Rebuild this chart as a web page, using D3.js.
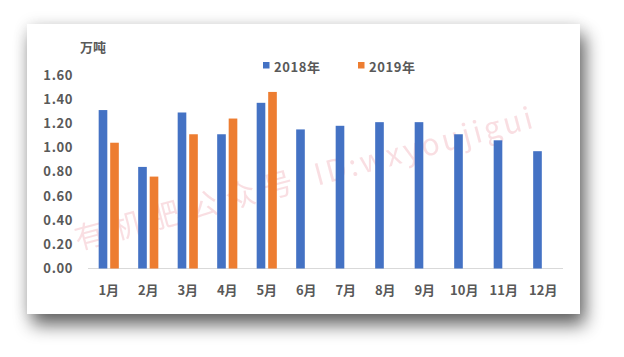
<!DOCTYPE html>
<html><head><meta charset="utf-8">
<script src="https://cdn.jsdelivr.net/npm/d3@7"></script>
<style>
html,body{margin:0;padding:0;background:#fff;}
svg{display:block;}
</style></head>
<body>
<svg id="c" width="624" height="357"></svg>
<script>
const months = ["1月","2月","3月","4月","5月","6月","7月","8月","9月","10月","11月","12月"];
const seriesNames = ["2018年","2019年"];
const values2018 = [1.31,0.84,1.29,1.11,1.37,1.15,1.18,1.21,1.21,1.11,1.06,0.97];
const values2019 = [1.04,0.76,1.11,1.24,1.46,null,null,null,null,null,null,null];
const yTicks = [0,0.2,0.4,0.6,0.8,1.0,1.2,1.4,1.6];
const colors = ["#4472C4","#ED7D31"];
const unitLabel = "万吨";
const watermarkCn = "有机肥公众号";
const watermarkId = "ID:wxyoujigui";

const svg = d3.select("#c");
const font = "'Noto Sans CJK SC','Noto Sans',sans-serif";
const textColor = "#595959";

const defs = svg.append("defs");
const f = defs.append("filter").attr("id","sh").attr("x","-15%").attr("y","-15%").attr("width","135%").attr("height","150%");
f.append("feGaussianBlur").attr("in","SourceAlpha").attr("stdDeviation",9).attr("result","b");
f.append("feOffset").attr("in","b").attr("dx",5).attr("dy",11).attr("result","o");
f.append("feComponentTransfer").attr("in","o").attr("result","o2")
  .append("feFuncA").attr("type","linear").attr("slope",0.6);
const m = f.append("feMerge");
m.append("feMergeNode").attr("in","o2");
m.append("feMergeNode").attr("in","SourceGraphic");

const f2 = defs.append("filter").attr("id","glow").attr("x","-10%").attr("y","-20%").attr("width","120%").attr("height","140%");
f2.append("feGaussianBlur").attr("in","SourceAlpha").attr("stdDeviation",8);

// soft glow behind card
svg.append("rect").attr("x",27).attr("y",24).attr("width",553).attr("height",290)
  .attr("fill","#000").attr("opacity",0.1).attr("filter","url(#glow)");
svg.append("rect").attr("x",27).attr("y",24).attr("width",553).attr("height",290)
  .attr("fill","#fff").attr("filter","url(#sh)");

const x = d3.scaleBand().domain(months).range([89,563]).paddingInner(0.49).paddingOuter(0.245);
const xs = d3.scaleBand().domain(seriesNames).range([0,x.bandwidth()]).paddingInner(0.25);
const y = d3.scaleLinear().domain([0,1.6]).range([268.5,75]);

// watermark
const wm = svg.append("text").attr("transform","translate(78,250) rotate(-15)")
  .attr("font-family",font).attr("font-size",30)
  .attr("fill","#e8808f").attr("opacity",0.25);
wm.append("tspan").attr("letter-spacing",9).text(watermarkCn);
wm.append("tspan").attr("dx",14).attr("letter-spacing",3).text(watermarkId);

// y axis labels
const yAxis = d3.axisLeft(y).tickValues(yTicks).tickFormat(d3.format(".2f")).tickSize(0).tickPadding(0);
const yg = svg.append("g").attr("transform","translate(73,0)").call(yAxis);
yg.select(".domain").remove();
yg.selectAll("text").attr("font-family",font).attr("font-size",13).attr("font-weight","bold")
  .attr("fill",textColor).attr("letter-spacing",0.6);

// baseline
svg.append("line").attr("x1",88).attr("x2",563).attr("y1",y(0)).attr("y2",y(0))
  .attr("stroke","#d9d9d9").attr("stroke-width",1);

// bars
const data = months.map((mo,i)=>({m:mo, vals:[values2018[i],values2019[i]]}));
const groups = svg.append("g").selectAll("g").data(data).join("g")
  .attr("transform",d=>`translate(${x(d.m)},0)`);
groups.selectAll("rect").data(d=>d.vals.map((v,j)=>({s:seriesNames[j],v,j})).filter(e=>e.v!=null))
  .join("rect")
  .attr("x",d=>xs(d.s)).attr("width",xs.bandwidth())
  .attr("y",d=>y(d.v)).attr("height",d=>y(0)-y(d.v))
  .attr("fill",d=>colors[d.j]);

// x axis labels
const xAxis = d3.axisBottom(x).tickSize(0).tickPadding(0);
const xg = svg.append("g").attr("transform","translate(0,286)").call(xAxis);
xg.select(".domain").remove();
xg.selectAll("text").attr("font-family",font).attr("font-size",13).attr("font-weight","bold")
  .attr("fill",textColor).attr("dy","0.71em");

// unit
svg.append("text").attr("x",80).attr("y",52).attr("font-family",font).attr("font-size",13)
  .attr("font-weight","bold").attr("fill",textColor).text(unitLabel);

// legend
const legX = [263,358];
const lg = svg.append("g").selectAll("g").data(seriesNames).join("g")
  .attr("transform",(d,i)=>`translate(${legX[i]},0)`);
lg.append("rect").attr("x",0).attr("y",62).attr("width",6.5).attr("height",6.5).attr("fill",(d,i)=>colors[i]);
lg.append("text").attr("x",11).attr("y",72).attr("font-family",font).attr("font-size",13)
  .attr("font-weight","bold").attr("fill",textColor).attr("letter-spacing",0.6).text(d=>d);
</script>
</body></html>
